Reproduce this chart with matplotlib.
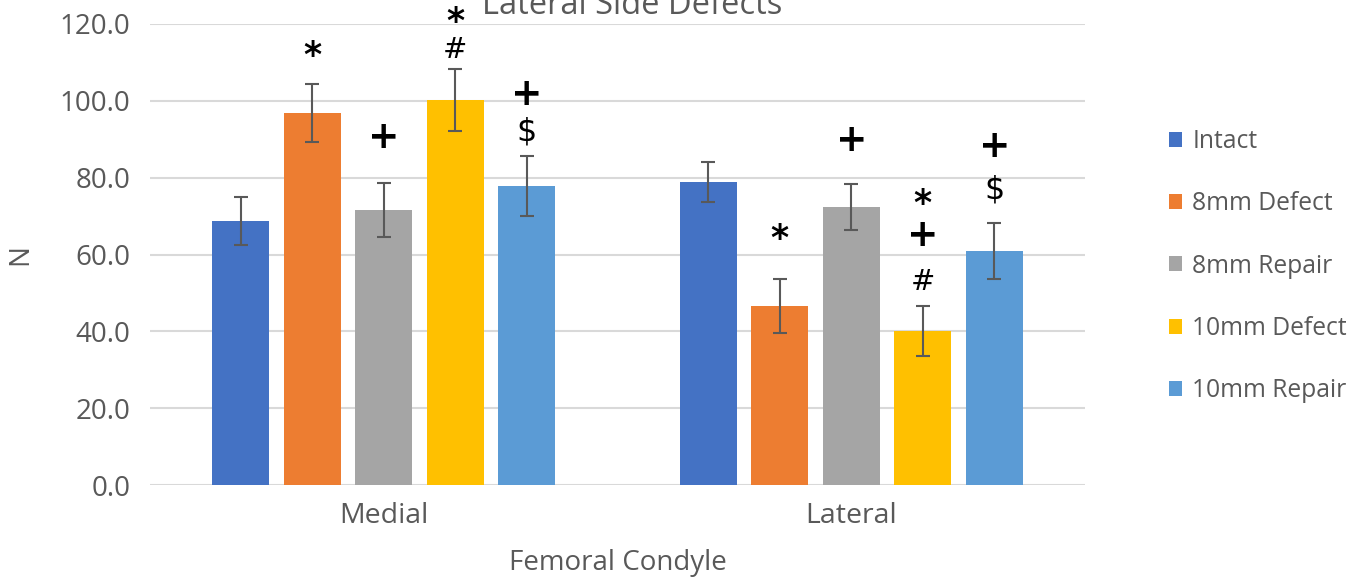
import matplotlib
matplotlib.use("Agg")
import matplotlib.pyplot as plt
import numpy as np

plt.rcParams['font.family'] = ['Open Sans', 'DejaVu Sans']

categories = ["Medial", "Lateral"]
series = ["Intact", "8mm Defect", "8mm Repair", "10mm Defect", "10mm Repair"]
colors = ["#4472C4", "#ED7D31", "#A5A5A5", "#FFC000", "#5B9BD5"]
values = {
    "Intact":      [68.7, 78.9],
    "8mm Defect":  [96.8, 46.6],
    "8mm Repair":  [71.6, 72.4],
    "10mm Defect": [100.2, 40.1],
    "10mm Repair": [77.8, 60.9],
}
errors = {
    "Intact":      [6.2, 5.3],
    "8mm Defect":  [7.6, 7.0],
    "8mm Repair":  [7.0, 6.0],
    "10mm Defect": [8.0, 6.6],
    "10mm Repair": [7.8, 7.3],
}
# significance symbols (symbol, y-value) per series per category
annotations = {
    "Intact":      [[], []],
    "8mm Defect":  [[("*", 112.7)], [("*", 65.1)]],
    "8mm Repair":  [[("+", 90.3)], [("+", 89.5)]],
    "10mm Defect": [[("*", 121.5), ("#", 113.2)], [("*", 74.2), ("+", 64.8), ("#", 52.8)]],
    "10mm Repair": [[("+", 101.5), ("$", 91.9)], [("+", 88.0), ("$", 76.8)]],
}
yticks = [0, 20, 40, 60, 80, 100, 120]
title = "Lateral Side Defects"
xlabel = "Femoral Condyle"
ylabel = "N"

txt = "#595959"
fig = plt.figure(figsize=(13.57, 5.85), dpi=100)
ax = fig.add_axes([0.1105, 0.1709, 0.6891, 0.959 - 0.1709])

x = np.arange(len(categories))
step = 0.153
width = 0.122
sym_style = {
    "*": dict(fontsize=25, family='DejaVu Sans', fontweight='bold', dy=-3),
    "+": dict(fontsize=27, family='DejaVu Sans', fontweight='bold', dy=0),
    "#": dict(fontsize=21, family='DejaVu Sans', fontweight='normal', dy=0),
    "$": dict(fontsize=23, family='DejaVu Sans', fontweight='normal', dy=0),
}
for i, s in enumerate(series):
    pos = x + (i - 2) * step
    ax.bar(pos, values[s], width=width, color=colors[i], label=s, zorder=3)
    ax.errorbar(pos, values[s], yerr=errors[s], fmt='none', ecolor="#595959",
                elinewidth=1.5, capsize=5, capthick=1.5, zorder=4)
    for j in range(len(categories)):
        for sym, yv in annotations[s][j]:
            st = sym_style[sym]
            ax.annotate(sym, (pos[j], yv), xytext=(0, st['dy']), textcoords='offset points',
                        ha='center', va='center', fontsize=st['fontsize'],
                        family=st['family'], fontweight=st['fontweight'],
                        color='black', zorder=5, annotation_clip=False)

ax.set_xlim(-0.5, 1.5)
ax.set_ylim(0, 120)
ax.set_yticks(yticks)
ax.set_yticklabels([f"{v:.1f}" for v in yticks], fontsize=20, color=txt)
ax.set_xticks(x)
ax.set_xticklabels(categories, fontsize=20.5, color=txt)
ax.tick_params(axis='y', length=0, pad=14)
ax.tick_params(axis='x', length=0, pad=12)
ax.yaxis.grid(True, color="#D9D9D9", linewidth=1.5, zorder=0)
ax.set_axisbelow(True)
for sp in ax.spines.values():
    sp.set_visible(False)
ax.set_xlabel(xlabel, fontsize=20, color=txt, labelpad=14)
ax.set_ylabel(ylabel, fontsize=20, color=txt)
ax.yaxis.set_label_coords(-0.124, 0.5)

fig.text(0.466, 0.99, title, ha='center', va='center', fontsize=23.5, color=txt)

leg = ax.legend(loc='center left', bbox_to_anchor=(1.066, 0.475), frameon=False,
                fontsize=17.7, labelcolor=txt, handlelength=0.55, handleheight=0.55,
                handletextpad=0.4, labelspacing=1.52)

fig.savefig("out.png", dpi=100)
